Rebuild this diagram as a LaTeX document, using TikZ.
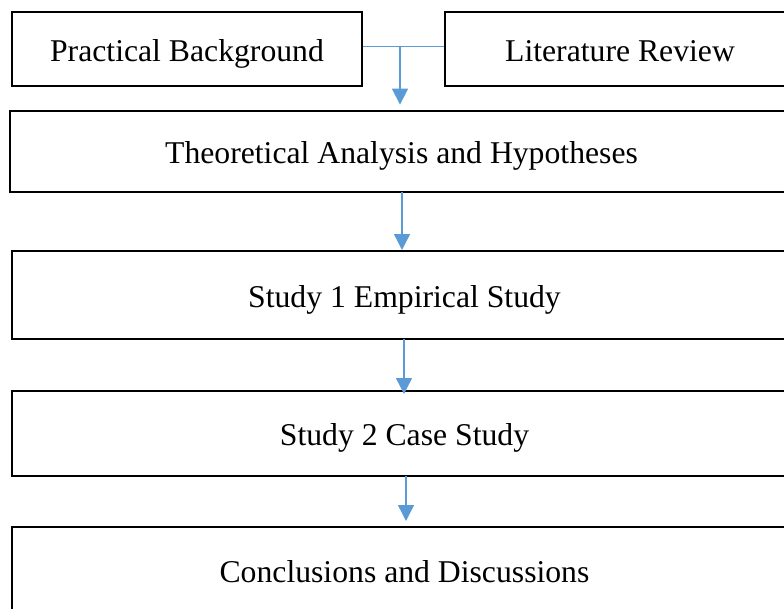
\documentclass[tikz,border=0pt]{standalone}
\usepackage{fontspec}
\setmainfont{Liberation Serif}
\usetikzlibrary{arrows.meta,calc}
\definecolor{arrowblue}{RGB}{91,155,213}
\begin{document}
\begin{tikzpicture}[x=1pt,y=-1pt,
  box/.style={draw=black,line width=2.8pt,rectangle,inner sep=0pt,
    text height=25pt,text depth=1pt,
    font=\fontsize{31.7}{36}\selectfont},
  flow/.style={draw=arrowblue,line width=1.4pt,
    -{Triangle[width=16pt,length=16pt]}}]
\useasboundingbox (0,0) rectangle (784,608);
\node[box,minimum width=350pt,minimum height=74pt] (pb) at (187,49) {Practical Background};
\node[box,minimum width=350pt,minimum height=74pt] (lr) at (620,49) {Literature Review};
\node[box,minimum width=783pt,minimum height=81pt] (ta) at (401.5,151.5) {Theoretical Analysis and Hypotheses};
\node[box,minimum width=785pt,minimum height=88pt] (s1) at (404.5,295) {Study 1 Empirical Study};
\node[box,minimum width=785pt,minimum height=85pt] (s2) at (404.5,433.5) {Study 2 Case Study};
\node[box,minimum width=785pt,minimum height=86pt] (cd) at (404.5,570) {Conclusions and Discussions};
\coordinate (j) at (400,46.5);
\draw[draw=arrowblue,line width=1.4pt] ($(pb.east)+(0,-2.5)$) -- ($(lr.west)+(0,-2.5)$);
\draw[flow,shorten >=5pt] (j) -- (j |- ta.north);
\draw[flow] (402,192) -- (402,250);
\draw[flow] (404,339) -- (404,394);
\draw[flow] (406,476) -- (406,521);
\end{tikzpicture}
\end{document}
